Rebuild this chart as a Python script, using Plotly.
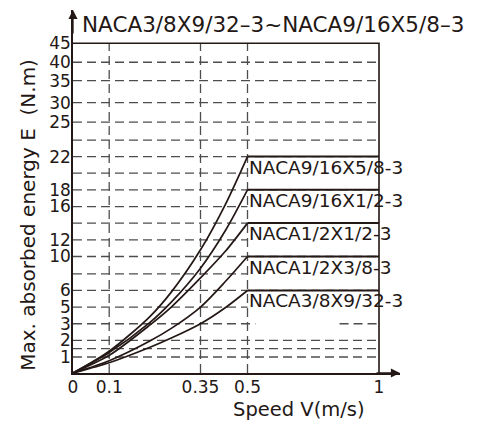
import numpy as np
import plotly.graph_objects as go

# ---- drawing scale of the original chart (value -> distance from origin) ----
x_scale_vals = [0, 0.1, 0.35, 0.5, 1]
x_scale_pos = [0, 36.2, 127.5, 174.5, 306]
y_scale_vals = [0, 1, 1.5, 2, 3, 5, 6, 8, 10, 12, 14, 16, 18, 20, 22, 24, 25, 30, 35, 40, 45]
y_scale_pos = [0, 16, 24.3, 32.6, 49.3, 66, 82.6, 99.3, 116.6, 133.3, 150, 166.6, 183.3,
               200, 216.6, 233, 251, 270.6, 292.6, 311, 330]

# ---- tick labels ----
x_ticks = [0, 0.1, 0.35, 0.5, 1]
x_ticktext = ["0", "0.1", "0.35", "0.5", "1"]
y_ticks = [1, 2, 3, 5, 6, 10, 12, 16, 18, 22, 25, 30, 35, 40, 45]
y_ticktext = [str(v) for v in y_ticks]

# ---- data ----
speed = [0, 0.1, 0.21, 0.27, 0.35, 0.43, 0.5]
models = ["NACA9/16X5/8-3", "NACA9/16X1/2-3", "NACA1/2X1/2-3", "NACA1/2X3/8-3", "NACA3/8X9/32-3"]
energy_9_16x5_8 = [0, 1.35, 3.8, 5.9, 10.8, 16.3, 22]
energy_9_16x1_2 = [0, 1.27, 3.1, 5.3, 8.65, 13.15, 18]
energy_1_2x1_2 = [0, 1.1, 2.9, 5.0, 7.5, 10.65, 14]
energy_1_2x3_8 = [0, 0.77, 1.95, 2.72, 5.0, 7.1, 10]
energy_3_8x9_32 = [0, 0.64, 1.57, 2.14, 3.0, 4.95, 6]
curves = [energy_9_16x5_8, energy_9_16x1_2, energy_1_2x1_2, energy_1_2x3_8, energy_3_8x9_32]
max_speed = 1

# grid lines
grid_y_full = [1, 1.5, 2, 6, 10, 14, 18, 22, 24, 25, 30, 35, 40]
grid_y_left = [5, 8, 12, 16, 20]     # hidden behind labels right of 0.5
grid_y_split = [3]
split_gap = [0.53, 0.85]
grid_x = [0.1, 0.35, 0.5]
y_top = 45

title = "NACA3/8X9/32\u20133~NACA9/16X5/8\u20133"
ytitle = "Max. absorbed energy E  (N.m)"
xtitle = "Speed V(m/s)"


def fx(v):
    return np.interp(np.asarray(v, dtype=float), x_scale_vals, x_scale_pos)


def fy(v):
    return np.interp(np.asarray(v, dtype=float), y_scale_vals, y_scale_pos)


INK = "#231815"
GRID = "#4d4d4d"
FONT = "DejaVu Sans"
XR = 327.0
YR = 363.3

fig = go.Figure()

# dashed grid
gx, gy = [], []
for v in grid_y_full:
    gx += [0, max_speed, None]; gy += [v, v, None]
for v in grid_y_left:
    gx += [0, 0.5, None]; gy += [v, v, None]
for v in grid_y_split:
    gx += [0, split_gap[0], None, split_gap[1], max_speed, None]
    gy += [v, v, None, v, v, None]
for v in grid_x:
    gx += [v, v, None]; gy += [0, y_top, None]
gx_t = [None if a is None else float(fx(a)) for a in gx]
gy_t = [None if a is None else float(fy(a)) for a in gy]
fig.add_trace(go.Scatter(x=gx_t, y=gy_t, mode="lines", hoverinfo="skip",
                         line=dict(color=GRID, width=1.3, dash="9px,5px"), showlegend=False))

# frame (top and right)
fig.add_trace(go.Scatter(x=fx([0, max_speed, max_speed]), y=fy([y_top, y_top, 0]), mode="lines",
                         line=dict(color=INK, width=1.6), showlegend=False, hoverinfo="skip"))

# curves
for name, e in zip(models, curves):
    fig.add_trace(go.Scatter(x=fx(speed), y=fy(e), mode="lines", name=name,
                             line=dict(color=INK, width=1.7, shape="spline", smoothing=0.8),
                             showlegend=False))
    fig.add_trace(go.Scatter(x=fx([speed[-1], max_speed]), y=fy([e[-1], e[-1]]), mode="lines",
                             line=dict(color=INK, width=2), showlegend=False, hoverinfo="skip"))
    fig.add_annotation(x=float(fx(speed[-1])), y=float(fy(e[-1])), yshift=-10.5,
                       text=name, showarrow=False, xanchor="left", yanchor="middle",
                       borderpad=0, font=dict(family=FONT, size=18.5, color=INK))

# axis arrows
fig.add_annotation(x=XR, y=0, ax=XR - 25, ay=0, axref="x", ayref="y", xref="x", yref="y",
                   text="", showarrow=True, arrowhead=2, arrowsize=1.4, arrowwidth=1.3,
                   arrowcolor=INK)
fig.add_annotation(x=0, y=YR, ax=0, ay=YR - 25, axref="x", ayref="y", xref="x", yref="y",
                   text="", showarrow=True, arrowhead=2, arrowsize=1.4, arrowwidth=1.3,
                   arrowcolor=INK)

# titles (paper coordinates relative to the plot area)
fig.add_annotation(xref="paper", yref="paper", x=7 / XR, y=348.5 / YR, text=title,
                   showarrow=False, xanchor="left", yanchor="middle",
                   font=dict(family=FONT, size=21.5, color=INK))
fig.add_annotation(xref="paper", yref="paper", x=-45 / XR, y=158.3 / YR, text=ytitle,
                   textangle=-90, showarrow=False, xanchor="center", yanchor="middle",
                   font=dict(family=FONT, size=20, color=INK))
fig.add_annotation(xref="paper", yref="paper", x=225.5 / XR, y=-36.7 / YR, text=xtitle,
                   showarrow=False, xanchor="center", yanchor="middle",
                   font=dict(family=FONT, size=19.5, color=INK))

# the page body adds an 8px margin: the figure is 8px smaller and margins shifted
fig.update_layout(
    width=473, height=417,
    margin=dict(l=65, r=81, t=2, b=51.7, pad=0, autoexpand=False),
    paper_bgcolor="white", plot_bgcolor="white",
    font=dict(family=FONT, color=INK),
    xaxis=dict(range=[0, XR], tickvals=fx(x_ticks), ticktext=x_ticktext, showgrid=False,
               zeroline=False, showline=True, linecolor=INK, linewidth=1.6, ticks="",
               automargin=False, ticklabelstandoff=-2,
               tickfont=dict(size=17, family=FONT, color=INK), fixedrange=True),
    yaxis=dict(range=[0, YR], tickvals=fy(y_ticks), ticktext=y_ticktext, showgrid=False,
               zeroline=False, showline=True, linecolor=INK, linewidth=1.6, ticks="",
               automargin=False, ticklabelstandoff=-3,
               tickfont=dict(size=17, family=FONT, color=INK), fixedrange=True),
)

fig.write_html("out.html")
